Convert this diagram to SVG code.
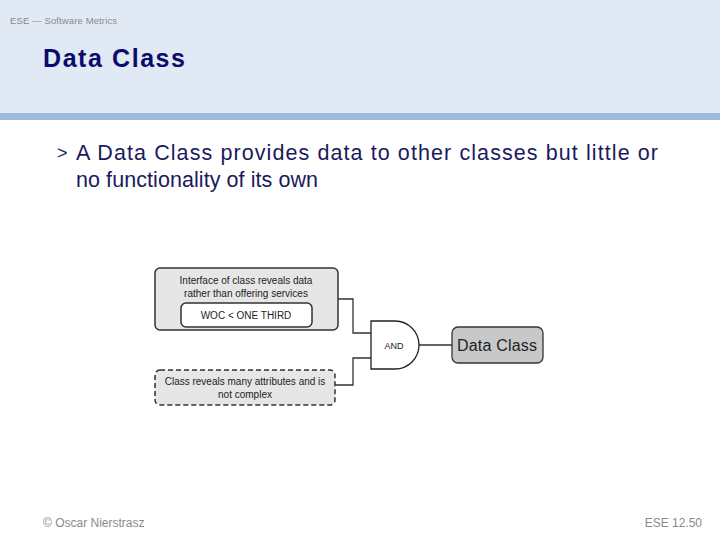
<svg xmlns="http://www.w3.org/2000/svg" width="720" height="540" viewBox="0 0 720 540">
<defs>
<style>
text { font-family: "Liberation Sans", Arial, sans-serif; }
.small { font-size: 10px; fill: #222; }
.box { fill: #e6e6e6; stroke: #333; stroke-width: 1.5; }
.wire { fill: none; stroke: #333; stroke-width: 1.3; }
.bullet { font-size: 21.5px; fill: #1a1a5c; }
</style>
</defs>
<rect x="0" y="0" width="720" height="113" fill="#e1eaf4"/>
<rect x="0" y="113" width="720" height="7" fill="#9dbcda"/>
<text x="10" y="24" font-size="9.5" fill="#8a8a8a" textLength="107">ESE — Software Metrics</text>
<text x="43" y="67" font-size="25" font-weight="bold" fill="#0b0b6b" textLength="142">Data Class</text>
<text x="57" y="159" font-size="18" fill="#1a1a5c">&gt;</text>
<text class="bullet" x="76" y="160" textLength="582">A Data Class provides data to other classes but little or</text>
<text class="bullet" x="76" y="187" textLength="242">no functionality of its own</text>

<g id="connectors">
<path class="wire" d="M338,299 H353 V333 H371"/>
<path class="wire" d="M335,385 H353 V358 H371"/>
<path class="wire" d="M419,345 H452"/>
</g>

<g id="interface">
<rect class="box" x="155" y="268" width="183" height="62" rx="5"/>
<text class="small" x="246" y="284" text-anchor="middle">Interface of class reveals data</text>
<text class="small" x="246" y="297" text-anchor="middle">rather than offering services</text>
</g>
<g id="woc">
<rect x="181" y="303" width="131" height="24" rx="5" fill="#fff" stroke="#333" stroke-width="1.5"/>
<text class="small" x="246" y="319" text-anchor="middle">WOC &lt; ONE THIRD</text>
</g>
<g id="attributes">
<rect class="box" x="155" y="370" width="180" height="35" rx="5" stroke-dasharray="5,3"/>
<text class="small" x="245" y="385" text-anchor="middle">Class reveals many attributes and is</text>
<text class="small" x="245" y="398" text-anchor="middle">not complex</text>
</g>
<g id="and">
<path d="M371,321 H395 A24,24 0 0 1 395,369 H371 Z" fill="#fff" stroke="#222" stroke-width="1.3"/>
<text x="394" y="349" font-size="9" fill="#222" text-anchor="middle">AND</text>
</g>
<g id="dataclass">
<rect x="452" y="327" width="91" height="36" rx="6" fill="#c8c8c8" stroke="#333" stroke-width="1.3"/>
<text x="457" y="351" font-size="16" fill="#222" textLength="80">Data Class</text>
</g>

<text x="43" y="527" font-size="12" fill="#8a8a8a">© Oscar Nierstrasz</text>
<text x="702" y="527" font-size="12" fill="#8a8a8a" text-anchor="end">ESE 12.50</text>
</svg>
